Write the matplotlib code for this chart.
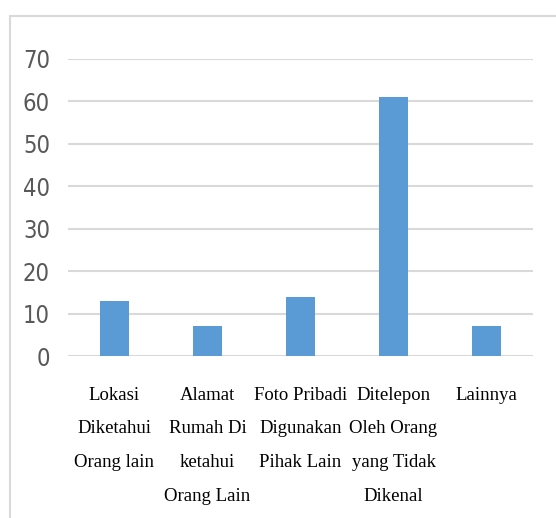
import matplotlib
matplotlib.use("Agg")
import matplotlib.pyplot as plt
from matplotlib.patches import Rectangle

categories = [
    "Lokasi\nDiketahui\nOrang lain",
    "Alamat\nRumah Di\nketahui\nOrang Lain",
    "Foto Pribadi\nDigunakan\nPihak Lain",
    "Ditelepon\nOleh Orang\nyang Tidak\nDikenal",
    "Lainnya",
]
values = [13, 7, 14, 61, 7]
y_ticks = [0, 10, 20, 30, 40, 50, 60, 70]

W, H = 556, 518
fig = plt.figure(figsize=(W / 100, H / 100), dpi=100)

# light chart-area border (top and left edges)
fig.patches.append(Rectangle((10 / W, -0.1), 1.2, (H - 16) / H + 0.1,
                             transform=fig.transFigure, fill=False,
                             edgecolor="#d9d9d9", linewidth=1.5))

left, right, top, bottom = 68, 533, 59, 356
ax = fig.add_axes([left / W, 1 - bottom / H, (right - left) / W, (bottom - top) / H])

x = range(len(categories))
ax.bar(x, values, width=0.31, color="#5b9bd5", zorder=3)

ax.set_xlim(-0.5, len(categories) - 0.5)
ax.set_ylim(0, 70)
ax.set_yticks(y_ticks)
ax.yaxis.grid(True, color="#d9d9d9", linewidth=1.5, zorder=0)
ax.set_axisbelow(True)
for s in ["top", "right", "left", "bottom"]:
    ax.spines[s].set_visible(False)
ax.tick_params(axis="both", length=0)

ax.set_yticklabels([str(t) for t in y_ticks], family="DejaVu Sans",
                   fontstretch="condensed", fontsize=17, color="#595959")
ax.tick_params(axis="y", pad=13)

ax.set_xticks(list(x))
ax.set_xticklabels(categories, family="Liberation Serif", fontsize=13.5,
                   color="#000000", linespacing=2.3, va="top")
ax.tick_params(axis="x", pad=22)

fig.savefig("out.png", dpi=100, facecolor="white")
